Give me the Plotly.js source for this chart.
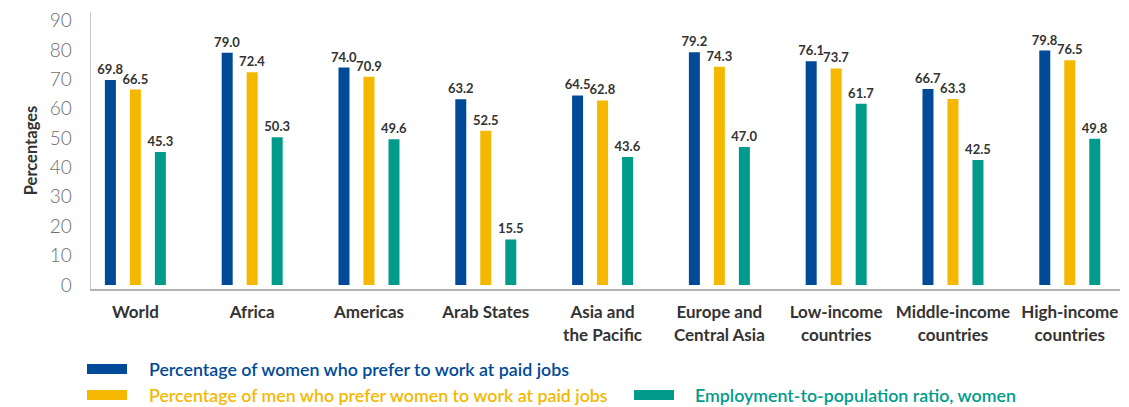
<!DOCTYPE html>
<html>
<head>
<meta charset="utf-8">
<script src="https://cdn.plot.ly/plotly-3.0.1.min.js"></script>
<style>html,body{margin:0;padding:0;background:#fff;}#chart{width:1129px;height:407px;}</style>
</head>
<body>
<div id="chart"></div>
<script>
const categories = ['World', 'Africa', 'Americas', 'Arab States', 'Asia and<br>the Pacific', 'Europe and<br>Central Asia', 'Low-income<br>countries', 'Middle-income<br>countries', 'High-income<br>countries'];
const womenPrefer = [69.8, 79.0, 74.0, 63.2, 64.5, 79.2, 76.1, 66.7, 79.8];
const menPrefer = [66.5, 72.4, 70.9, 52.5, 62.8, 74.3, 73.7, 63.3, 76.5];
const employmentRatio = [45.3, 50.3, 49.6, 15.5, 43.6, 47.0, 61.7, 42.5, 49.8];
const seriesNames = ['Percentage of women who prefer to work at paid jobs', 'Percentage of men who prefer women to work at paid jobs', 'Employment-to-population ratio, women'];
const seriesColors = ['#004A98', '#F5B800', '#009B8A'];
const yTicks = [0, 10, 20, 30, 40, 50, 60, 70, 80, 90];

const FONT = 'Lato, "Open Sans", sans-serif';
const seriesData = [womenPrefer, menPrefer, employmentRatio];
const traces = seriesData.map((vals, i) => ({
  type: 'bar',
  x: categories,
  y: vals,
  name: seriesNames[i],
  marker: {color: seriesColors[i]},
  texttemplate: '%{y:.1f}',
  textposition: 'outside',
  constraintext: 'none',
  cliponaxis: false,
  textfont: {family: FONT, size: 13, color: '#333333', weight: 700},
  showlegend: false,
  hoverinfo: 'skip'
}));

// plot area in pixels
const L = 91, R = 1120, T = 12, B = 289;
const W = 1129, H = 407;
const px = x => (x - L) / (R - L);
const py = y => (B - y) / (B - T);

// custom legend (swatches + coloured text)
const legendItems = [
  {sx: 87, sy: 364, tx: 147, i: 0},
  {sx: 87, sy: 390, tx: 147, i: 1},
  {sx: 634, sy: 390, tx: 693, i: 2}
];
const shapes = legendItems.map(it => ({
  type: 'rect', xref: 'paper', yref: 'paper',
  x0: px(it.sx), x1: px(it.sx + 40), y0: py(it.sy), y1: py(it.sy + 10),
  fillcolor: seriesColors[it.i], line: {width: 0}
}));
const annotations = legendItems.map(it => ({
  xref: 'paper', yref: 'paper', x: px(it.tx), y: py(it.sy + 5),
  xanchor: 'left', yanchor: 'middle', showarrow: false,
  text: seriesNames[it.i],
  font: {family: FONT, size: 17.8, color: seriesColors[it.i], weight: 600}
}));

const layout = {
  width: W, height: H,
  margin: {l: L, r: W - R, t: T, b: H - B, pad: 0},
  paper_bgcolor: '#ffffff', plot_bgcolor: '#ffffff',
  barmode: 'group', bargap: 0.358, bargroupgap: 0.56,
  xaxis: {
    range: [-0.38, 8.43], showgrid: false, zeroline: false,
    showline: true, linecolor: '#b3b3b3', linewidth: 2,
    ticks: '', ticklabelstandoff: 7,
    tickfont: {family: FONT, size: 17, color: '#333333', weight: 700},
    fixedrange: true
  },
  yaxis: {
    range: [-1.36, 92.9], showgrid: false, zeroline: false,
    showline: true, linecolor: '#c8c8c8', linewidth: 1.5,
    tickvals: yTicks, ticktext: yTicks.map(String), ticks: '', ticklabelstandoff: 14,
    tickfont: {family: FONT, size: 19, color: '#6d6e71', weight: 300},
    title: {text: 'Percentages', standoff: 8, font: {family: FONT, size: 16.5, color: '#333333', weight: 700}},
    fixedrange: true
  },
  shapes: shapes,
  annotations: annotations,
  font: {family: FONT}
};

Plotly.newPlot('chart', traces, layout, {displayModeBar: false, staticPlot: true});
</script>
</body>
</html>
